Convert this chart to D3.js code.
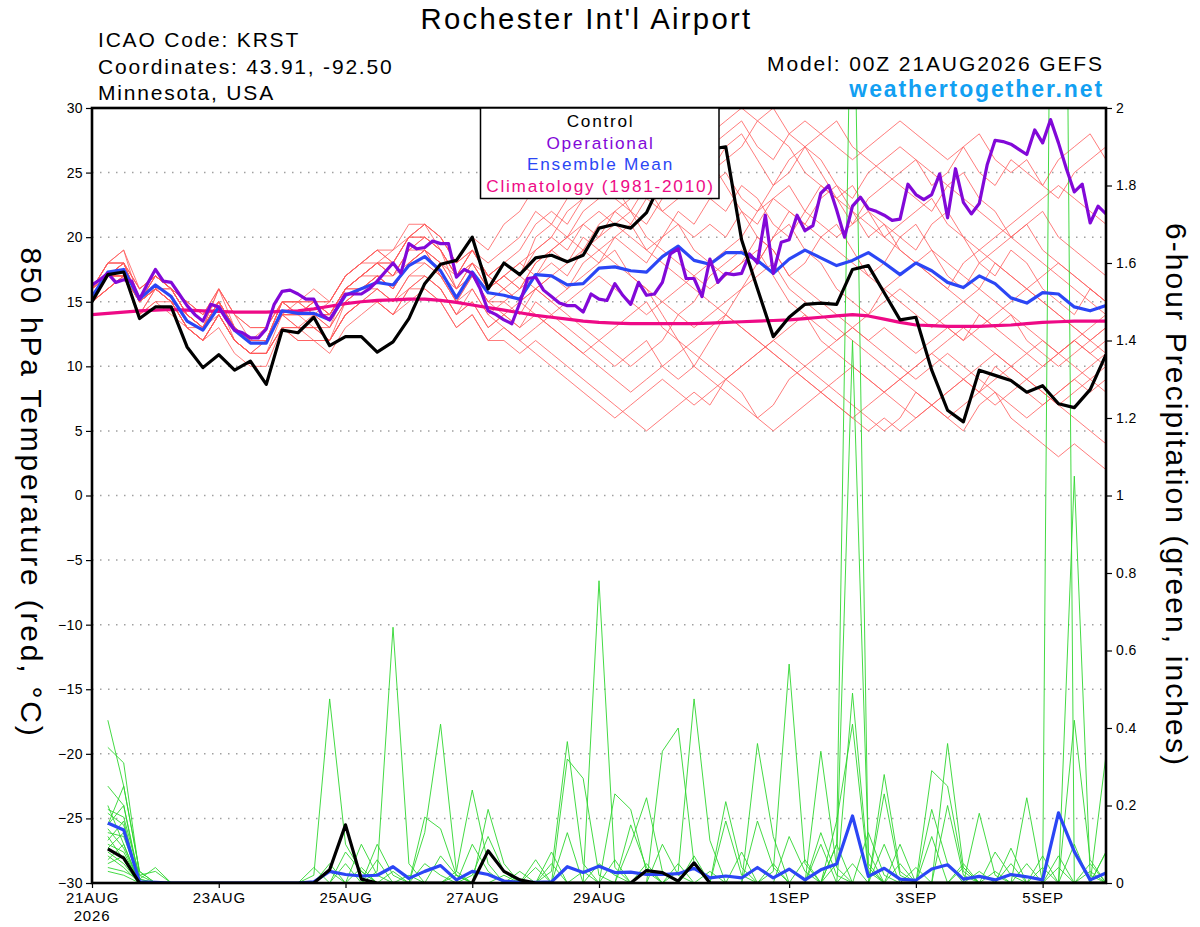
<!DOCTYPE html>
<html>
<head>
<meta charset="utf-8">
<script src="https://cdn.jsdelivr.net/npm/d3@7"></script>
<style>
  body { margin: 0; background: #fff; }
  svg { display: block; font-family: 'Liberation Sans', Arial, Helvetica, sans-serif; }
</style>
</head>
<body>
<script>
// Run info
const runStart = Date.UTC(2026, 7, 21, 0)
const dayTicks = [[2026, 7, 21], [2026, 7, 23], [2026, 7, 25], [2026, 7, 27], [2026, 7, 29], [2026, 8, 1], [2026, 8, 3], [2026, 8, 5]]

// 850 hPa temperature, 6-hourly (control, mean, climatology)
const controlTemp = [15.0, 17.1, 17.3, 13.7, 14.6, 14.6, 11.5, 9.9, 10.9, 9.7, 10.4, 8.6, 12.8,
  12.6, 13.8, 11.6, 12.3, 12.3, 11.1, 11.9, 13.7, 16.4, 17.9, 18.2, 20.0, 16.0,
  18.0, 17.1, 18.4, 18.6, 18.1, 18.6, 20.7, 21.0, 20.7, 21.9, 24.5, 26.0, 26.5,
  26.8, 27.0, 19.8, 16.0, 12.3, 13.8, 14.8, 14.9, 14.8, 17.5, 17.8, 15.7, 13.6,
  13.8, 9.7, 6.6, 5.7, 9.7, 9.3, 8.9, 8.0, 8.5, 7.1, 6.8, 8.2, 10.9]
const meanTemp = [15.4, 17.3, 17.5, 15.2, 16.3, 15.4, 13.5, 12.8, 14.6, 12.8, 11.8, 11.8, 14.3,
  14.1, 14.1, 13.6, 15.5, 16.0, 16.5, 16.3, 17.8, 18.5, 17.4, 15.3, 17.3, 15.7,
  15.5, 15.2, 17.1, 17.0, 16.3, 16.4, 17.6, 17.7, 17.4, 17.3, 18.5, 19.3, 18.2,
  17.9, 18.8, 18.8, 18.2, 17.2, 18.3, 19.0, 18.4, 17.8, 18.2, 18.8, 18.0, 17.1,
  18.0, 17.4, 16.5, 16.1, 17.0, 16.4, 15.3, 14.9, 15.7, 15.6, 14.6, 14.3, 14.7]
const climoTemp = [14.0, 14.1, 14.2, 14.3, 14.35, 14.4, 14.35, 14.3, 14.25, 14.2, 14.2, 14.2, 14.25,
  14.3, 14.45, 14.65, 14.85, 15.0, 15.1, 15.15, 15.2, 15.2, 15.1, 14.95, 14.75, 14.55,
  14.35, 14.15, 13.95, 13.8, 13.65, 13.5, 13.4, 13.35, 13.3, 13.3, 13.3, 13.3, 13.3,
  13.35, 13.4, 13.45, 13.5, 13.55, 13.6, 13.7, 13.8, 13.9, 14.0, 13.9, 13.65, 13.4,
  13.2, 13.15, 13.1, 13.1, 13.1, 13.15, 13.2, 13.3, 13.4, 13.45, 13.5, 13.5, 13.5]

// Operational run, 3-hourly
const operTemp = [16.3, 16.7, 17.2, 16.5, 16.7, 16.6, 15.2, 16.4, 17.5, 16.6,
  16.5, 15.6, 14.7, 14.0, 13.5, 14.8, 14.6, 13.6, 12.8, 12.6,
  12.2, 12.2, 12.9, 14.8, 15.8, 15.9, 15.6, 15.2, 15.2, 14.0,
  13.6, 14.6, 15.6, 15.6, 15.6, 16.0, 16.6, 17.3, 18.0, 17.2,
  19.5, 19.1, 19.2, 19.7, 19.5, 19.5, 16.9, 17.5, 17.2, 16.0,
  14.3, 14.0, 13.6, 13.3, 14.9, 16.8, 16.9, 15.9, 15.4, 14.9,
  14.7, 14.7, 14.2, 15.6, 15.2, 15.1, 16.4, 15.5, 14.8, 16.5,
  15.5, 15.6, 16.5, 18.7, 19.1, 16.8, 16.8, 15.4, 18.3, 16.5,
  17.2, 17.1, 17.2, 18.7, 18.0, 21.7, 17.2, 19.6, 19.8, 21.7,
  20.5, 20.9, 23.4, 24.0, 22.1, 20.0, 22.4, 23.1, 22.2, 22.0,
  21.7, 21.3, 21.4, 24.1, 23.3, 22.9, 23.3, 24.9, 21.5, 25.3,
  22.7, 21.8, 22.6, 25.6, 27.5, 27.4, 27.2, 26.8, 26.4, 28.3,
  27.3, 29.1, 27.3, 25.3, 23.5, 24.1, 21.1, 22.4, 21.8]

// Ensemble members, 850 hPa temperature, 6-hourly
const memberTemp = [
  [16,18,18,15,17,16,14,13,15,13,12,12,15, 14,15,14,16,17,18,17,19,20,19,17,19,17, 18,17,20,21,20,22,23,24,23,25,26,27,26, 25,27,28,26,24,25,27,26,24,23,25,26,27, 26,24,25,27,28,26,25,26,24,23,25,26,27],
  [15,17,17,14,16,15,13,12,14,12,11,11,14, 13,13,12,14,15,15,14,16,16,15,13,14,12, 12,11,12,11,10,9,8,7,6,5,6,7,8, 7,9,8,6,7,9,10,9,8,7,6,5,6, 8,7,6,5,7,8,6,5,4,3,4,3,2],
  [16,17,18,16,17,16,14,13,16,13,12,12,15, 15,14,15,17,18,19,18,20,21,20,18,20,19, 21,22,24,23,25,26,27,28,29,28,27,29,28, 26,24,22,20,19,17,16,15,14,13,12,13,12, 11,12,13,12,14,13,12,11,10,11,12,11,10],
  [15,16,17,15,16,15,13,12,14,12,11,11,13, 13,13,12,15,16,17,17,18,19,17,15,17,15, 14,13,15,14,13,12,11,10,11,12,10,9,10, 12,14,16,18,20,22,21,23,24,22,20,21,19, 18,17,16,15,14,13,14,12,11,10,11,12,13],
  [16,18,19,15,17,16,15,14,15,13,12,13,15, 14,15,14,16,16,17,16,18,18,17,15,16,14, 15,16,18,19,20,21,22,21,20,19,18,17,16, 15,14,13,12,11,10,9,8,7,6,5,6,5, 6,7,8,9,8,10,9,8,7,8,9,8,9],
  [15,17,18,15,16,15,14,13,15,13,12,12,14, 14,14,13,16,17,18,17,19,19,18,16,17,16, 17,18,19,20,19,21,20,22,23,24,22,23,24, 25,26,27,29,30,28,27,28,29,27,26,25,24, 23,22,24,25,23,22,20,21,19,18,17,16,15],
  [15,16,17,14,15,14,13,12,14,12,11,11,13, 12,12,12,14,15,15,14,16,17,16,14,15,13, 14,13,14,13,12,11,12,13,14,15,13,12,11, 10,9,10,11,12,13,14,12,11,10,9,8,9, 10,11,10,9,8,7,8,9,10,11,12,13,14],
  [16,17,17,15,16,15,14,13,15,13,12,12,14, 15,15,14,16,17,18,19,20,21,19,17,18,16, 17,16,17,18,17,19,18,20,21,19,20,22,21, 23,22,24,23,21,20,22,24,23,21,22,20,21, 22,23,21,20,19,18,17,16,15,14,13,12,11],
  [15,17,18,15,17,16,14,13,15,12,11,12,14, 14,13,13,15,16,16,15,17,18,17,16,17,15, 16,15,16,15,14,13,12,11,10,11,12,14,15, 17,18,19,18,20,21,19,18,16,15,14,16,17, 18,19,17,16,18,19,20,21,22,20,19,18,17],
  [16,18,18,16,17,16,15,14,16,14,13,13,15, 15,15,15,17,18,19,19,21,21,20,18,19,17, 18,19,21,22,21,23,24,25,26,27,28,26,25, 24,25,23,22,24,26,27,25,23,24,22,21,20, 19,21,22,20,18,17,19,18,16,15,14,16,15],
  [15,16,17,14,15,15,13,12,13,11,10,10,13, 12,12,11,13,14,15,14,15,16,15,13,14,12, 13,12,13,14,15,16,17,16,15,14,15,16,17, 18,19,20,22,23,24,22,21,20,21,23,24,25, 26,25,24,23,22,21,20,19,18,17,16,15,14],
  [16,17,17,15,16,16,14,13,15,13,12,12,14, 14,14,13,15,16,17,16,18,19,18,16,18,16, 17,16,18,19,18,20,19,18,17,16,14,12,10, 9,8,7,6,5,6,7,8,9,10,9,8,7, 6,7,8,9,10,11,10,9,8,7,8,9,10],
  [15,17,17,15,16,15,13,13,15,13,12,12,15, 14,14,14,16,17,18,18,20,20,19,17,19,17, 18,17,19,20,22,23,24,23,22,21,23,24,26, 27,28,29,27,26,28,29,28,27,26,27,28,29, 28,27,26,27,25,24,26,25,24,26,27,28,26],
  [16,18,19,16,17,16,14,13,15,13,12,12,15, 15,14,14,16,17,17,16,18,19,18,17,18,17, 16,17,16,15,16,17,18,19,17,16,15,14,13, 14,15,16,17,18,16,15,14,13,12,11,10,9, 10,11,12,13,12,11,10,9,8,7,6,5,4],
  [15,16,17,15,16,15,14,13,14,12,11,12,14, 13,14,14,16,16,17,16,18,19,17,15,17,15, 15,14,16,17,16,18,19,20,19,18,20,21,19, 18,17,18,20,19,17,18,20,21,19,17,18,20, 21,19,18,17,16,18,17,16,15,14,13,12,13],
  [16,17,18,15,17,16,14,13,16,14,13,13,15, 15,16,15,17,18,19,18,20,21,20,18,19,18, 19,20,22,21,23,24,25,24,22,20,19,18,17, 16,17,18,19,17,15,14,13,12,13,14,15,16, 15,14,13,12,13,14,15,16,17,18,17,16,15],
  [15,17,17,14,16,15,13,12,14,12,11,11,13, 13,13,12,14,15,16,15,17,17,16,14,16,14, 13,12,11,10,9,8,7,6,7,8,9,8,7, 8,9,10,11,12,11,10,11,12,13,12,11,10, 9,10,11,10,9,8,7,6,7,8,9,10,11],
  [16,17,18,15,16,16,14,13,15,13,12,12,14, 14,15,14,16,17,18,17,19,20,19,16,18,16, 17,18,17,19,20,19,21,22,21,23,22,21,20, 21,20,22,21,23,22,21,20,19,18,17,16,15, 14,13,14,15,16,15,14,13,12,11,12,11,12],
  [15,16,17,15,16,15,13,12,14,12,11,11,13, 13,12,12,14,15,16,15,16,17,16,14,15,13, 14,15,16,17,18,19,20,21,22,24,25,26,27, 28,29,30,29,28,27,25,24,23,22,21,20,19, 18,17,16,18,19,20,21,22,23,24,23,22,21],
  [16,18,18,16,17,16,15,14,16,14,12,12,15, 14,15,15,17,18,18,18,20,20,19,17,19,17, 16,15,14,13,12,11,10,9,8,9,10,11,12, 13,14,13,12,11,10,9,8,7,6,7,8,9, 8,7,6,7,8,9,10,11,12,11,10,9,8]
]

// 6-hour precipitation (inches), valid 06Z 21AUG onward
const meanPrecip = [0.155, 0.137, 0.003, 0.002, 0, 0, 0, 0,
  0, 0, 0, 0, 0, 0.003, 0.03, 0.022,
  0.018, 0.02, 0.042, 0.012, 0.03, 0.045, 0.008, 0.03,
  0.022, 0.005, 0.002, 0.002, 0.003, 0.042, 0.027, 0.043,
  0.027, 0.028, 0.022, 0.022, 0.024, 0.038, 0.013, 0.018,
  0.013, 0.04, 0.013, 0.036, 0.008, 0.034, 0.049, 0.173,
  0.017, 0.038, 0.01, 0.007, 0.036, 0.047, 0.01, 0.017,
  0.008, 0.022, 0.016, 0.008, 0.181, 0.081, 0.008, 0.026]
const controlPrecip = [0.088, 0.064, 0, 0, 0, 0, 0, 0,
  0, 0, 0, 0, 0, 0, 0.034, 0.15,
  0.01, 0, 0, 0, 0, 0, 0, 0,
  0.083, 0.03, 0.008, 0, 0, 0, 0, 0,
  0, 0, 0.032, 0.027, 0.005, 0.052, 0, 0,
  0, 0, 0, 0, 0, 0, 0, 0,
  0, 0, 0, 0, 0, 0, 0, 0,
  0, 0, 0, 0, 0, 0, 0, 0]
const memberPrecip = [
  [.42,.25,.03,0,0,0,0,0, 0,0,0,0,0,0,0,.08, .03,0,0,0,0,.07,.02,0, 0,0,0,0,0,0,0,.05, .02,0,0,0,0,0,0,0, 0,.16,.04,0,0,0,0,.05, 0,0,0,0,0,0,.05,0, 0,0,0,0,0,.42,.06,0],
  [.35,.31,.02,.03,0,0,0,0, 0,0,0,0,0,0,0,0, .1,.02,0,0,0,0,0,.1, .03,0,0,0,0,0,0,0, 0,0,0,0,.05,0,0,0, 0,0,0,.12,.03,0,0,0, 0,0,.1,0,0,0,0,0, 0,0,0,0,.07,0,0,0],
  [.25,.2,.01,0,0,0,0,0, 0,0,0,0,0,.04,0,0, 0,0,0,0,.05,.02,0,0, 0,0,0,0,0,0,0,0, 0,.15,.04,0,0,0,0,0, 0,0,0,0,.06,0,0,0, 0,0,0,0,.19,.05,0,0, 0,0,0,0,0,.1,0,0],
  [.19,.17,.02,0,0,0,0,0, 0,0,0,0,0,0,0,0, 0,.06,0,0,0,0,0,0, 0,.02,0,0,0,0,0,0, 0,0,0,.34,.4,.05,0,0, 0,0,0,0,0,0,0,0, 0,.1,0,0,0,0,0,0, .08,.02,0,0,0,0,0,0],
  [.18,.15,0,0,0,0,0,0, 0,0,0,0,0,.02,.475,.1, .03,0,0,0,0,0,0,0, 0,0,0,0,0,0,0,0, 0,0,.05,0,0,0,0,0, 0,0,0,0,0,.34,.04,0, 0,0,0,0,0,0,0,0, 0,0,0,.07,0,0,0,0],
  [.15,.2,0,0,0,0,0,0, 0,0,0,0,0,0,0,0, 0,.03,.66,.05,0,0,0,0, 0,0,0,.06,0,0,0,0, 0,0,0,0,0,0,0,0, .08,0,0,0,0,0,0,0, 0,0,.05,0,0,0,0,0, 0,.09,0,0,0,0,0,.08],
  [.13,.12,.01,0,0,0,0,0, 0,0,0,0,0,0,.05,0, 0,0,0,0,0,0,0,0, 0,0,0,0,.05,0,0,0, 0,0,0,0,0,.07,0,0, 0,0,0,0,0,0,.1,2.6, .05,0,0,0,0,0,0,0, 0,0,0,0,0,0,0,0],
  [.11,.16,0,0,0,0,0,0, 0,0,0,0,0,0,0,0, 0,.1,.02,0,0,0,0,0, 0,0,0,0,.03,.365,.05,0, 0,0,0,0,0,0,0,0, 0,0,.05,0,0,0,0,0, 0,0,0,.04,0,0,0,0, 0,0,0,0,5.0,0,0,0],
  [.1,.08,0,0,0,0,0,0, 0,0,0,0,0,0,.03,0, 0,0,0,0,0,0,0,.02, .12,.03,0,0,0,0,0,.78, .04,0,0,0,0,0,0,0, 0,0,0,0,0,.1,0,0, 0,0,0,0,0,.2,.02,0, 0,0,0,0,0,0,.05,0],
  [.09,.13,0,0,0,0,0,0, 0,0,0,0,0,0,0,0, 0,0,.03,0,0,0,0,0, 0,0,0,0,0,.32,.27,.02, 0,0,0,0,0,0,0,0, 0,0,0,0,0,.13,.02,0, 0,0,0,0,.12,0,0,0, 0,0,0,0,0,1.05,.02,0],
  [.08,.05,0,0,0,0,0,0, 0,0,0,0,0,0,0,.05, 0,0,0,0,0,0,0,0, 0,0,0,0,0,.13,0,0, 0,0,0,0,0,0,.03,0, 0,0,0,0,0,0,.16,.41, .03,0,0,0,0,0,0,0, 0,0,.22,0,0,0,0,0],
  [.06,.1,0,0,0,0,0,0, 0,0,0,0,0,0,0,0, .04,0,0,0,0,0,0,0, 0,0,0,0,0,0,.03,0, 0,0,0,0,0,0,0,.21, .04,0,0,0,0,0,0,0, 0,.28,.03,0,0,0,0,0, 0,.05,0,0,0,0,0,.33],
  [.05,.07,0,0,0,0,0,0, 0,0,0,0,0,0,0,0, 0,0,0,.02,0,0,0,0, 0,0,0,0,0,0,0,0, .23,.19,.03,0,0,0,0,0, 0,0,0,0,0,0,.05,1.4, .08,0,0,0,0,0,0,.03, 0,0,0,0,0,0,0,0],
  [.15,.25,.03,0,0,0,0,0, 0,0,0,0,0,0,0,0, 0,0,0,0,.17,.14,.02,0, 0,0,0,0,0,0,0,0, .06,0,0,0,0,0,0,0, 0,0,.03,.565,.05,0,0,0, 0,0,0,0,0,0,0,0, 0,0,0,.04,0,0,0,0],
  [.2,.1,0,0,0,0,0,0, 0,0,0,0,0,0,0,0, 0,0,0,0,.13,.41,.03,0, 0,0,0,0,0,0,0,0, 0,0,0,0,0,0,0,0, 0,.36,.12,0,0,0,0,0, 0,0,0,0,0,0,.04,0, 0,0,0,0,0,0,.03,0],
  [.12,.06,0,0,0,0,0,0, 0,0,0,0,0,0,0,0, 0,0,0,0,0,0,.02,0, 0,0,0,0,0,0,0,0, 0,.1,.22,.03,0,0,0,0, 0,0,0,0,0,0,.1,0, 0,0,0,0,.29,.25,.03,0, 0,0,0,0,0,0,0,0],
  [.07,.04,0,0,0,0,0,0, 0,0,0,0,0,0,0,0, 0,0,0,0,0,0,.03,.24, .05,0,0,0,0,0,0,0, 0,0,0,0,0,0,0,.16, .02,0,0,0,0,0,0,0, 0,0,0,0,0,.36,.04,0, 0,0,0,0,.04,0,0,0],
  [.04,.03,.01,.04,0,0,0,0, 0,0,0,0,0,0,0,0, 0,0,0,0,0,0,0,0, .19,.05,0,0,0,0,0,0, 0,0,0,.1,.02,0,0,0, 0,0,0,0,0,0,0,.49, .04,0,0,0,0,0,0,0, .03,0,0,0,0,0,0,0],
  [.03,.02,0,0,0,0,0,0, 0,0,0,0,0,0,0,0, 0,0,0,0,0,0,0,0, 0,0,.03,0,.08,0,0,0, 0,0,0,0,0,.05,0,0, 0,0,0,0,0,0,0,0, .13,.02,0,0,0,0,0,.18, .02,0,0,0,0,0,0,0],
  [.14,.09,0,0,0,0,0,0, 0,0,0,0,0,0,0,0, 0,0,0,0,0,0,0,0, 0,0,0,.04,0,0,0,0, 0,0,0,0,.03,.475,.11,0, 0,0,0,0,0,0,0,0, 0,.23,.02,0,0,0,0,0, 0,0,.05,0,0,0,0,.08]
]

// Legend entries
const legendLabels = ['Control', 'Operational', 'Ensemble Mean', 'Climatology (1981-2010)']
const legendColors = ['#000000', '#8208d8', '#2b46f5', '#ee0a86']

// Layout
const width = 1200
const height = 927
const plot = { left: 92, right: 1106, top: 108, bottom: 883 }
const hour = 3600 * 1000

const svg = d3.select('body')
  .append('svg')
  .attr('width', width)
  .attr('height', height)

// Scales
const x = d3.scaleUtc()
  .domain([new Date(runStart), new Date(runStart + 384 * hour)])
  .range([plot.left, plot.right])
const yTemp = d3.scaleLinear()
  .domain([-30, 30])
  .range([plot.bottom, plot.top])
const yPrecip = d3.scaleLinear()
  .domain([0, 2])
  .range([plot.bottom, plot.top])

const at6h = i => x(new Date(runStart + i * 6 * hour))
const at3h = i => x(new Date(runStart + i * 3 * hour))

const tempLine = d3.line()
  .x((d, i) => at6h(i))
  .y(d => yTemp(d))
const operLine = d3.line()
  .x((d, i) => at3h(i))
  .y(d => yTemp(d))
const precipLine = d3.line()
  .x((d, i) => at6h(i + 1))
  .y(d => yPrecip(d))

// Clip to plot area
svg.append('clipPath')
  .attr('id', 'plot-clip')
  .append('rect')
  .attr('x', plot.left)
  .attr('y', plot.top)
  .attr('width', plot.right - plot.left)
  .attr('height', plot.bottom - plot.top)

// Dotted grid on temperature ticks
const tempTicks = d3.range(-30, 31, 5)
svg.append('g')
  .selectAll('line')
  .data(tempTicks.slice(1, -1))
  .enter()
  .append('line')
  .attr('x1', plot.left)
  .attr('x2', plot.right)
  .attr('y1', d => yTemp(d))
  .attr('y2', d => yTemp(d))
  .attr('stroke', '#a0a0a0')
  .attr('stroke-width', 1.5)
  .attr('stroke-dasharray', '1.5,6.5')

const lines = svg.append('g')
  .attr('clip-path', 'url(#plot-clip)')
  .attr('fill', 'none')
  .attr('stroke-linejoin', 'round')

// Ensemble members
lines.selectAll('.member-temp')
  .data(memberTemp)
  .enter()
  .append('path')
  .attr('class', 'member-temp')
  .attr('d', tempLine)
  .attr('stroke', '#ff5a5a')
  .attr('stroke-width', 0.8)

lines.selectAll('.member-precip')
  .data(memberPrecip)
  .enter()
  .append('path')
  .attr('class', 'member-precip')
  .attr('d', precipLine)
  .attr('stroke', '#2fd62f')
  .attr('stroke-width', 0.9)

// Main temperature lines
lines.append('path')
  .attr('d', tempLine(climoTemp))
  .attr('stroke', legendColors[3])
  .attr('stroke-width', 3.2)
lines.append('path')
  .attr('d', tempLine(meanTemp))
  .attr('stroke', legendColors[2])
  .attr('stroke-width', 3.2)
lines.append('path')
  .attr('d', operLine(operTemp))
  .attr('stroke', legendColors[1])
  .attr('stroke-width', 3.2)
lines.append('path')
  .attr('d', tempLine(controlTemp))
  .attr('stroke', legendColors[0])
  .attr('stroke-width', 3.2)

// Main precipitation lines
lines.append('path')
  .attr('d', precipLine(meanPrecip))
  .attr('stroke', legendColors[2])
  .attr('stroke-width', 3.2)
lines.append('path')
  .attr('d', precipLine(controlPrecip))
  .attr('stroke', legendColors[0])
  .attr('stroke-width', 3.2)

// Axes
const leftAxis = svg.append('g')
  .attr('transform', `translate(${plot.left}, 0)`)
  .call(d3.axisLeft(yTemp).tickValues(tempTicks).tickSize(6).tickPadding(3))
const rightAxis = svg.append('g')
  .attr('transform', `translate(${plot.right}, 0)`)
  .call(d3.axisRight(yPrecip)
    .tickValues(d3.range(0, 11).map(d => d / 5))
    .tickFormat(d3.format('~g'))
    .tickSize(6)
    .tickPadding(4))
const bottomAxis = svg.append('g')
  .attr('transform', `translate(0, ${plot.bottom})`)
  .call(d3.axisBottom(x)
    .tickValues(dayTicks.map(d => new Date(Date.UTC(d[0], d[1], d[2]))))
    .tickFormat(d => d3.utcFormat('%-d%b')(d).toUpperCase())
    .tickSize(5)
    .tickPadding(4))

for (const g of [leftAxis, rightAxis, bottomAxis]) {
  g.select('.domain').remove()
  g.selectAll('.tick line').attr('stroke', '#000').attr('stroke-width', 1.2)
  g.selectAll('text')
    .attr('fill', '#000')
    .attr('font-family', null)
    .attr('font-size', 14)
    .attr('letter-spacing', 0.4)
}
bottomAxis.selectAll('text')
  .attr('font-size', 15)
  .attr('letter-spacing', 0.8)

svg.append('text')
  .attr('x', x(new Date(runStart)))
  .attr('y', 921)
  .attr('text-anchor', 'middle')
  .attr('font-size', 15)
  .attr('letter-spacing', 0.8)
  .text('2026')

// Frame
svg.append('rect')
  .attr('x', plot.left)
  .attr('y', plot.top)
  .attr('width', plot.right - plot.left)
  .attr('height', plot.bottom - plot.top)
  .attr('fill', 'none')
  .attr('stroke', '#000')
  .attr('stroke-width', 2.6)

// Legend box
const legend = svg.append('g')
legend.append('rect')
  .attr('x', 480.5)
  .attr('y', plot.top)
  .attr('width', 238.5)
  .attr('height', 90.5)
  .attr('fill', '#fff')
  .attr('stroke', '#000')
  .attr('stroke-width', 1.5)
legend.selectAll('text')
  .data(legendLabels)
  .enter()
  .append('text')
  .attr('x', 600.5)
  .attr('y', (d, i) => 126.7 + i * 21.8)
  .attr('text-anchor', 'middle')
  .attr('font-size', 17.2)
  .attr('letter-spacing', 1.75)
  .attr('fill', (d, i) => legendColors[i])
  .text(d => d)

// Titles
svg.append('text')
  .attr('x', 586.5)
  .attr('y', 29.3)
  .attr('text-anchor', 'middle')
  .attr('font-size', 29.3)
  .attr('letter-spacing', 2.3)
  .text("Rochester Int'l Airport")

const info = ['ICAO Code: KRST', 'Coordinates: 43.91, -92.50', 'Minnesota, USA']
svg.append('g')
  .selectAll('text')
  .data(info)
  .enter()
  .append('text')
  .attr('x', 98)
  .attr('y', (d, i) => 47 + i * 26.5)
  .attr('font-size', 21)
  .attr('letter-spacing', 1.8)
  .text(d => d)

svg.append('text')
  .attr('x', 1104)
  .attr('y', 71)
  .attr('text-anchor', 'end')
  .attr('font-size', 21)
  .attr('letter-spacing', 1.9)
  .text('Model: 00Z 21AUG2026 GEFS')
svg.append('text')
  .attr('x', 1104)
  .attr('y', 97)
  .attr('text-anchor', 'end')
  .attr('font-size', 23)
  .attr('font-weight', 'bold')
  .attr('letter-spacing', 1.9)
  .attr('fill', '#12a0f2')
  .text('weathertogether.net')

// Axis titles
svg.append('text')
  .attr('transform', 'translate(21, 493) rotate(90)')
  .attr('text-anchor', 'middle')
  .attr('font-size', 30)
  .attr('letter-spacing', 2.8)
  .text('850 hPa Temperature (red, °C)')
svg.append('text')
  .attr('transform', 'translate(1166, 495) rotate(90)')
  .attr('text-anchor', 'middle')
  .attr('font-size', 30)
  .attr('letter-spacing', 2.1)
  .text('6-hour Precipitation (green, inches)')
</script>
</body>
</html>
